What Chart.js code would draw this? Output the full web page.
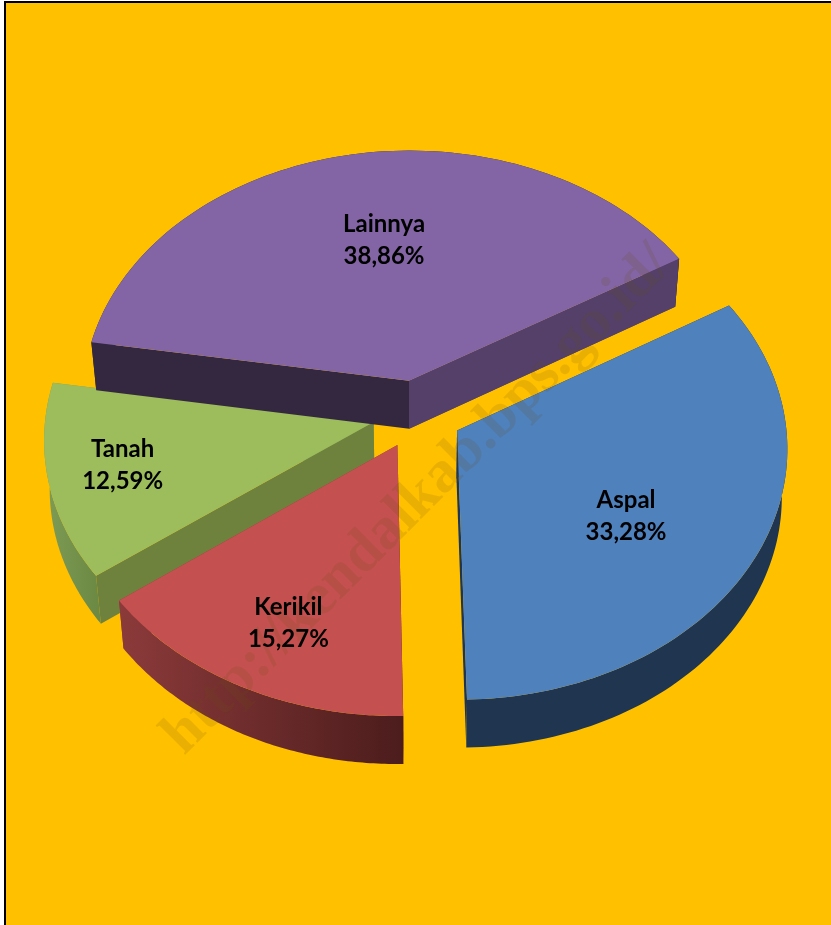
<!DOCTYPE html>
<html>
<head>
<meta charset="utf-8">
<title>Pie 3D</title>
<script src="https://cdn.jsdelivr.net/npm/chart.js@4"></script>
<style>
  html, body { margin: 0; padding: 0; background: #fff; overflow: hidden; }
  #frame { position: absolute; left: 4px; top: 1px; width: 840px; height: 940px; background: #FFC000; border: 2px solid #000; box-sizing: border-box; }
  #chart { position: absolute; left: 0; top: 0; }
</style>
</head>
<body>
<div id="frame"></div>
<canvas id="chart" width="831" height="925"></canvas>
<script>
// Order is clockwise from Tanah so the back slices get painted first
const categories = ["Tanah", "Lainnya", "Aspal", "Kerikil"];
const shares = [12.59, 38.86, 33.28, 15.27];
const topColors = ["#9DBC5B", "#8364A4", "#4F81BD", "#C4504F"];
const wallColors = [["#7F9C55", "#6C8A44"], ["#33283F", "#33283F"], ["#1F3550", "#1F3550"], ["#8C3A3A", "#4C1C1C"]];
const startCutColors = ["#6E823E", "#33283F", "#1F3550", "#4C1C1C"];
const endCutColors = ["#7F9C55", "#544069", "#1F3550", "#8C3A3A"];
const labelShifts = [[-251, 43], [-25, -140], [169, 86], [-109, 178]];

const squash = 0.76;     // tilt of the pie plane
const perspective = 0.065;
const depth = 48;
const bottomShrink = 0.985;

function project(cx, cy, R, x, y) {
  const w = 1 - perspective * y / R;
  return [cx + x / w, cy + squash * y / w];
}

const pie3d = {
  id: "pie3d",
  beforeDatasetDraw(chart, args) {
    const ctx = chart.ctx;
    args.meta.data.forEach((arc, i) => {
      const p = arc.getProps(["x", "y", "startAngle", "endAngle", "outerRadius"], true);
      const mid = (p.startAngle + p.endAngle) / 2;
      const off = arc.options.offset;
      const ax = Math.cos(mid) * off, ay = Math.sin(mid) * off;
      const R = p.outerRadius;

      // rim of the slice on the top face
      const rim = [];
      const steps = 90;
      for (let s = 0; s <= steps; s++) {
        const a = p.startAngle + (p.endAngle - p.startAngle) * s / steps;
        rim.push(project(p.x, p.y, R, ax + Math.cos(a) * R, ay + Math.sin(a) * R));
      }
      const apex = project(p.x, p.y, R, ax, ay);
      const low = pt => [p.x + (pt[0] - p.x) * bottomShrink, pt[1] + depth];

      const fillPath = (pts, style) => {
        ctx.beginPath();
        pts.forEach((pt, n) => n ? ctx.lineTo(pt[0], pt[1]) : ctx.moveTo(pt[0], pt[1]));
        ctx.closePath();
        ctx.fillStyle = style;
        ctx.fill();
      };

      // cut that faces away goes behind the wall
      fillPath([apex, rim[steps], low(rim[steps]), low(apex)], endCutColors[i]);

      // outer wall
      const xs = rim.map(pt => pt[0]);
      const grad = ctx.createLinearGradient(Math.min(...xs), 0, Math.max(...xs), 0);
      grad.addColorStop(0, wallColors[i][0]);
      grad.addColorStop(1, wallColors[i][1]);
      fillPath(rim.concat(rim.slice().reverse().map(low)), grad);

      // front cut faces
      fillPath([apex, rim[0], low(rim[0]), low(apex)], startCutColors[i]);
      if (mid > 0 && i === 1) fillPath([apex, rim[steps], low(rim[steps]), low(apex)], endCutColors[i]);

      // top face
      fillPath([apex].concat(rim), arc.options.backgroundColor);
    });
    return false;
  },
  afterDatasetsDraw(chart) {
    const ctx = chart.ctx;
    const meta = chart.getDatasetMeta(0);

    // watermark across the chart
    ctx.save();
    ctx.translate(173, 745);
    ctx.rotate(-Math.PI / 4);
    ctx.textAlign = "left";
    ctx.textBaseline = "middle";
    ctx.font = "bold 60px 'Liberation Serif'";
    ctx.fillStyle = "rgba(110, 80, 20, 0.15)";
    ctx.fillText("http://kendalkab.bps.go.id/", 0, 0);
    ctx.restore();

    ctx.save();
    ctx.textAlign = "center";
    ctx.textBaseline = "middle";
    ctx.fillStyle = "#000";
    ctx.font = "bold 24px Lato";
    meta.data.forEach((arc, i) => {
      const p = arc.getProps(["x", "y", "startAngle", "endAngle", "outerRadius"], true);
      const mid = (p.startAngle + p.endAngle) / 2;
      const off = arc.options.offset;
      const apex = project(p.x, p.y, p.outerRadius, Math.cos(mid) * off, Math.sin(mid) * off);
      const lx = apex[0] + labelShifts[i][0], ly = apex[1] + labelShifts[i][1];
      ctx.fillText(categories[i], lx, ly - 16);
      ctx.fillText(shares[i].toFixed(2).replace(".", ",") + "%", lx, ly + 16);
    });
    ctx.restore();
  }
};

new Chart(document.getElementById("chart"), {
  type: "pie",
  data: {
    labels: categories,
    datasets: [{
      data: shares,
      backgroundColor: topColors,
      borderWidth: 0,
      offset: 45,
      hoverOffset: 45
    }]
  },
  options: {
    responsive: false,
    animation: false,
    rotation: 233.8,
    radius: 328,
    layout: { padding: { left: 4, bottom: 97 } },
    plugins: { legend: { display: false }, tooltip: { enabled: false } }
  },
  plugins: [pie3d]
});
</script>
</body>
</html>
